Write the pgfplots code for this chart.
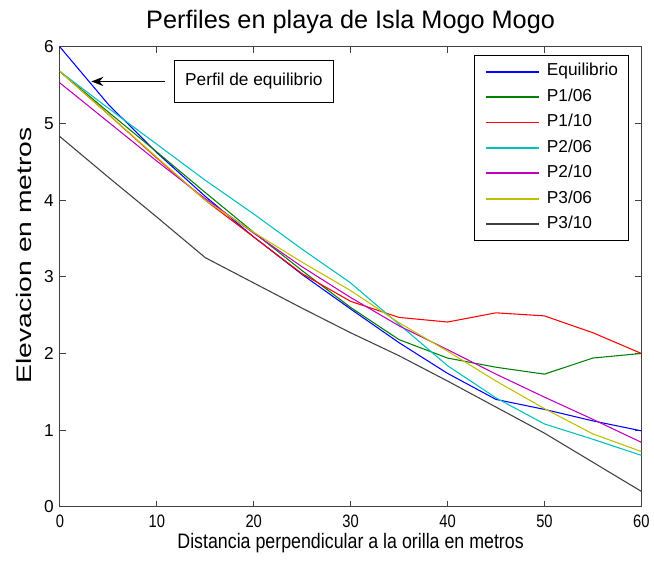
\documentclass[border=0pt]{standalone}
\usepackage{fontspec}
\setmainfont{Liberation Sans}
\newfontfamily\xlabfont[FakeStretch=0.85]{Liberation Sans}
\newfontfamily\ylabfont[FakeStretch=1.35]{Liberation Sans}
\newfontfamily\xtickfont[FakeStretch=0.82]{Liberation Sans}
\usepackage{pgfplots}
\pgfplotsset{compat=1.18}
\usetikzlibrary{arrows.meta}
\definecolor{matblue}{rgb}{0,0,1}
\definecolor{matgreen}{rgb}{0,0.5,0}
\definecolor{matred}{rgb}{1,0,0}
\definecolor{matcyan}{rgb}{0,0.75,0.75}
\definecolor{matmagenta}{rgb}{0.75,0,0.75}
\definecolor{matyellow}{rgb}{0.75,0.75,0}
\definecolor{matblack}{rgb}{0.25,0.25,0.25}
\begin{document}
\begin{tikzpicture}
\begin{axis}[
  scale only axis, width=437.25pt, height=345.75pt,
  xmin=0, xmax=60, ymin=0, ymax=6,
  xtick={0,10,...,60}, ytick={0,1,...,6},
  tick align=inside, major tick length=4.5pt,
  axis line style={black!75, line width=0.75pt},
  tick style={black!75, line width=0.75pt},
  /pgf/number format/assume math mode=true,
  tick label style={font=\fontsize{13}{15}\selectfont},
  x tick label style={font=\xtickfont\fontsize{13.5}{15}\selectfont, yshift=-2.5pt},
  y tick label style={xshift=-1pt},
  title={Perfiles en playa de Isla Mogo Mogo},
  title style={at={(axis description cs:0.5,1.039)}, anchor=base, yshift=-6pt, font=\fontsize{19}{22}\selectfont, inner sep=0pt},
  xlabel={Distancia perpendicular a la orilla en metros},
  xlabel style={at={(axis description cs:0.5,-0.09)}, anchor=base, font=\xlabfont\fontsize{15.75}{18}\selectfont, inner sep=0pt},
  ylabel={Elevacion en metros},
  ylabel style={at={(axis description cs:-0.048,0.547)}, anchor=base, font=\ylabfont\fontsize{15.75}{18}\selectfont, inner sep=0pt},
  legend cell align=left,
  legend image code/.code={\draw[#1, line width=1.3pt] (0pt,0pt) -- (40pt,0pt);},
  legend style={at={(axis description cs:0.979,0.9826)}, anchor=north east,
    line width=0.75pt, font=\fontsize{13}{15}\selectfont,
    inner xsep=8pt, inner ysep=6pt, row sep=6.6pt, column sep=5pt,
    nodes={inner sep=0pt, text height=9.5pt, text depth=3pt}},
  every axis plot/.append style={line width=0.8pt},
  clip=false,
]
\addplot[color=matblue, legend image post style={draw=matblue}] coordinates {(0,6.00) (5,5.25) (10,4.62) (15,4.05) (20,3.52) (25,3.03) (30,2.58) (35,2.14) (40,1.74) (45,1.40) (50,1.27) (55,1.12) (60,0.99)};
\addlegendentry{Equilibrio}
\addplot[color=matgreen, legend image post style={draw=matgreen}] coordinates {(0,5.68) (5,5.15) (10,4.63) (15,4.10) (20,3.58) (25,3.08) (30,2.60) (35,2.18) (40,1.94) (45,1.82) (50,1.73) (55,1.94) (60,2.00)};
\addlegendentry{P1/06}
\addplot[color=matred, legend image post style={draw=matred}] coordinates {(0,5.68) (5,5.12) (10,4.55) (15,4.00) (20,3.52) (25,3.04) (30,2.68) (35,2.47) (40,2.41) (45,2.53) (50,2.49) (55,2.27) (60,2.00)};
\addlegendentry{P1/10}
\addplot[color=matcyan, legend image post style={draw=matcyan}] coordinates {(0,5.68) (5,5.20) (10,4.73) (15,4.26) (20,3.82) (25,3.36) (30,2.92) (35,2.38) (40,1.84) (45,1.42) (50,1.08) (55,0.88) (60,0.67)};
\addlegendentry{P2/06}
\addplot[color=matmagenta, legend image post style={draw=matmagenta}] coordinates {(0,5.53) (5,5.02) (10,4.51) (15,4.02) (20,3.57) (25,3.13) (30,2.73) (35,2.36) (40,2.05) (45,1.73) (50,1.43) (55,1.14) (60,0.84)};
\addlegendentry{P2/10}
\addplot[color=matyellow, legend image post style={draw=matyellow}] coordinates {(0,5.68) (5,5.12) (10,4.56) (15,4.00) (20,3.58) (25,3.19) (30,2.82) (35,2.40) (40,2.03) (45,1.64) (50,1.28) (55,0.95) (60,0.72)};
\addlegendentry{P3/06}
\addplot[color=matblack, legend image post style={draw=matblack}] coordinates {(0,4.83) (5,4.30) (10,3.78) (15,3.25) (20,2.92) (25,2.59) (30,2.27) (35,1.97) (40,1.64) (45,1.30) (50,0.96) (55,0.58) (60,0.20)};
\addlegendentry{P3/10}
\node[draw=black, line width=0.75pt, fill=white, minimum width=119pt, minimum height=32pt, inner sep=0pt, font=\fontsize{13}{15}\selectfont] at (axis cs:20.02,5.549) {Perfil de equilibrio};
\draw[-{Stealth[length=9pt,width=7pt,inset=3pt]}, line width=0.75pt] (axis cs:10.9,5.549) -- (axis cs:3.26,5.549);
\coordinate (bl) at (axis description cs:0,0);
\end{axis}
\path ([shift={(-45pt,-42pt)}]bl) rectangle ++(490.5pt,423pt);
\end{tikzpicture}
\end{document}
